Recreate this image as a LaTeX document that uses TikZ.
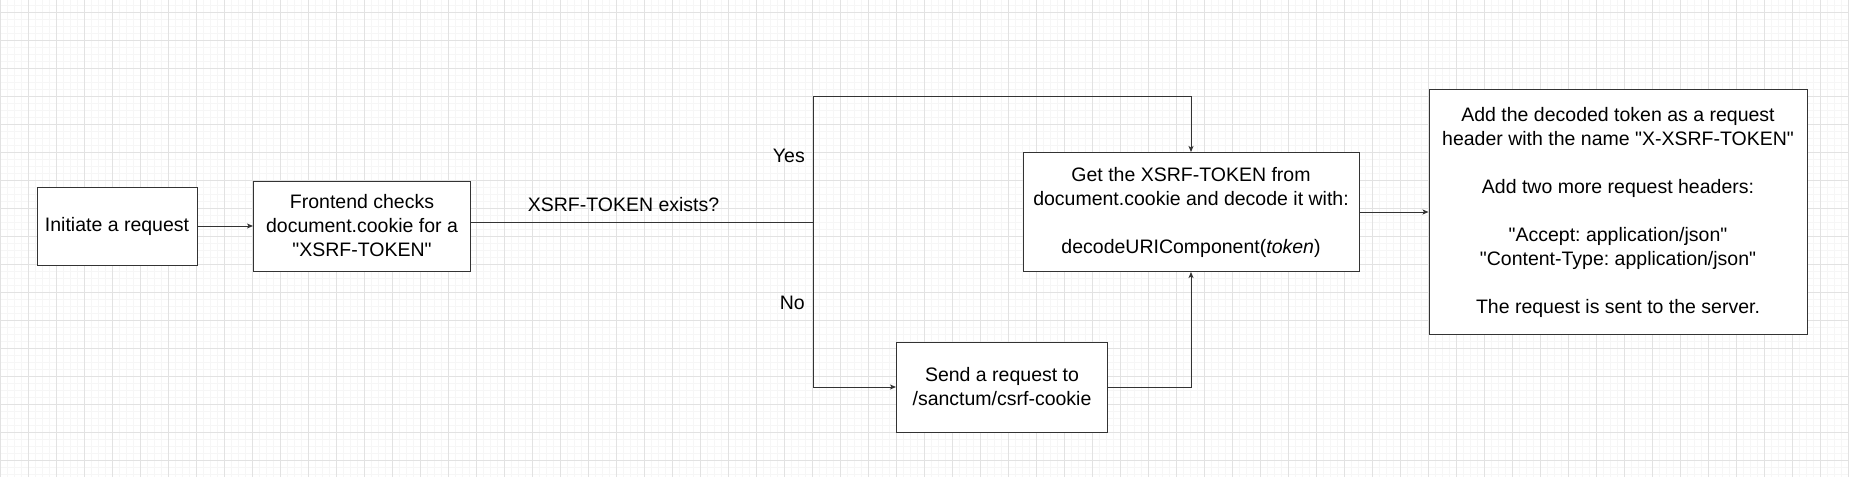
\documentclass[tikz,border=0pt]{standalone}
\usepackage{fontspec}
\setmainfont{Liberation Sans}[Ligatures=TeXOff]
\usetikzlibrary{arrows.meta}
\definecolor{gridmajor}{RGB}{226,226,226}
\definecolor{gridminor}{RGB}{246,246,246}
\definecolor{linegray}{RGB}{51,51,51}
\frenchspacing

\begin{document}
\begin{tikzpicture}[x=1pt, y=-1pt,
    box/.style={draw=linegray, line width=1pt, fill=white, align=center, inner sep=0pt,
      font=\fontsize{19.5}{24}\selectfont},
    flow/.style={draw=linegray, line width=1pt, -{Stealth[length=6pt, width=5pt, inset=1.5pt]}},
    lbl/.style={font=\fontsize{19.5}{24}\selectfont, inner sep=0pt}]
  \useasboundingbox (0,0) rectangle (1849,477);
  % Background grid
  \fill[white] (0,0) rectangle (1849,477);
  \foreach \gx in {0,7,...,1848} \draw[gridminor, line width=1pt] (\gx,0) -- (\gx,477);
  \foreach \gy in {5.3,12.3,...,477} \draw[gridminor, line width=1pt] (0,\gy) -- (1849,\gy);
  \foreach \gx in {0,28,...,1848} \draw[gridmajor, line width=1pt] (\gx,0) -- (\gx,477);
  \foreach \gy in {12.3,40.3,...,477} \draw[gridmajor, line width=1pt] (0,\gy) -- (1849,\gy);

  % Steps
  \node[box, minimum width=160pt, minimum height=78pt] (init) at (117,226) {Initiate a request};
  \node[box, minimum width=217pt, minimum height=90pt] (check) at (362,226)
    {Frontend checks\\document.cookie for a\\"XSRF-TOKEN"};
  \node[box, minimum width=336pt, minimum height=119pt] (decode) at (1191,212)
    {Get the XSRF-TOKEN from\\document.cookie and decode it with:\\[24pt]decodeURIComponent(\textit{token})};
  \node[box, minimum width=211pt, minimum height=90pt] (fetch) at (1002,387)
    {Send a request to\\/sanctum/csrf-cookie};
  \node[box, minimum width=378pt, minimum height=245pt] (send) at (1618,212)
    {Add the decoded token as a request\\header with the name "X-XSRF-TOKEN"\\[24pt]
     Add two more request headers:\\[24pt]
     "Accept: application/json"\\"Content-Type: application/json"\\[24pt]
     The request is sent to the server.};

  % Branch points
  \coordinate (split) at (813,222);
  \coordinate (yesturn) at (813,96);

  % Connectors
  \draw[flow] (init) -- (check);
  \draw[linegray, line width=1pt] (check.east |- split) -- (split);
  \draw[flow] (split) -- (yesturn) -| (decode.north);
  \draw[flow] (split) |- (fetch.west);
  \draw[flow] (fetch.east) -| (decode.south);
  \draw[flow] (decode) -- (send);

  % Labels
  \node[lbl] (question) at (623.5,205) {XSRF-TOKEN exists?};
  \node[lbl, anchor=east] (yes) at (805,156) {Yes};
  \node[lbl, anchor=east] (no) at (805,303) {No};
\end{tikzpicture}
\end{document}
